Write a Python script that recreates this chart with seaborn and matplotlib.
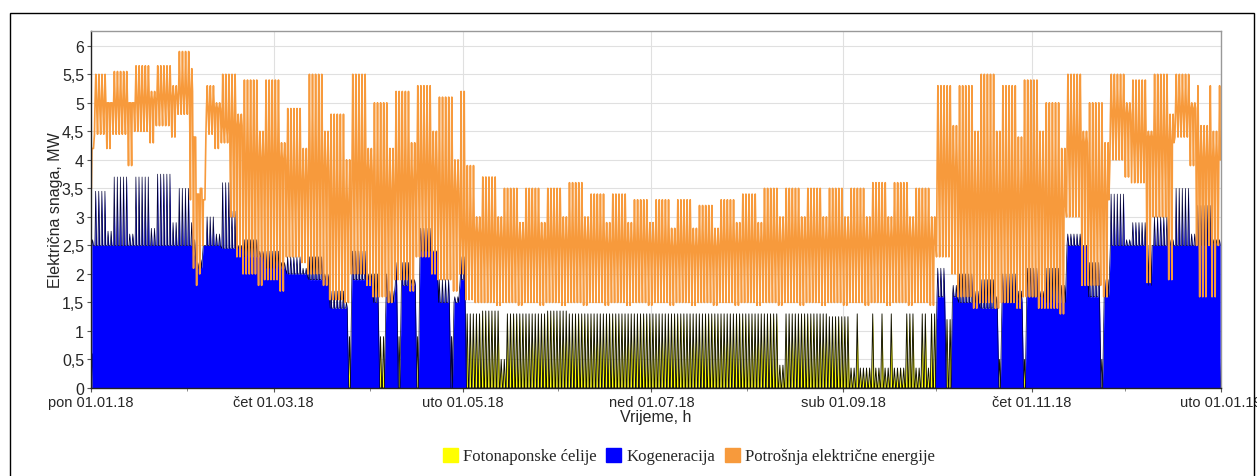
import numpy as np
import pandas as pd
import matplotlib
matplotlib.use("Agg")
import matplotlib.pyplot as plt
import seaborn as sns
from matplotlib.patches import Patch, Rectangle
from matplotlib import font_manager

# ---------------- data (MW) ----------------
# weekly values, week 0 starts Mon 01.01.2018 (53 weeks)
cons_peak = [5.5, 5.55, 5.65, 5.65, 5.9, 5.3, 5.5, 5.4, 5.4, 4.9, 5.5, 4.8, 5.5, 5.0, 5.2, 5.3, 5.1,
             3.9, 3.7, 3.5, 3.5, 3.5, 3.6, 3.4, 3.4, 3.3, 3.3, 3.3, 3.2, 3.3, 3.4, 3.5, 3.5, 3.5, 3.5,
             3.5, 3.6, 3.6, 3.5,
             5.3, 5.3, 5.5, 5.3, 5.4, 5.0, 5.5, 5.0, 5.5, 5.4, 5.5, 5.5, 5.3, 5.3]
cons_we_peak = [5.0, 5.0, 5.2, 5.3, 4.0, 5.0, 4.8, 4.5, 4.3, 4.2, 4.5, 4.0, 4.2, 4.2, 4.3, 4.5, 4.0,
                3.0, 3.0, 2.9, 2.9, 3.0, 3.0, 2.9, 2.9, 2.9, 2.8, 2.8, 2.8, 2.9, 2.9, 3.0, 3.0, 3.0, 3.0,
                3.0, 3.0, 3.0, 3.0,
                4.6, 4.5, 4.5, 4.4, 4.5, 4.2, 4.5, 4.3, 5.0, 4.5, 4.8, 5.0, 4.5, 4.5]
cons_mid = [5.0, 5.0, 5.05, 5.1, 5.2, 4.9, 4.6, 4.0, 4.0, 3.6, 3.8, 3.2, 3.8, 3.4, 3.6, 3.8, 3.4,
            2.7, 2.6, 2.55, 2.55, 2.55, 2.55, 2.5, 2.5, 2.5, 2.45, 2.45, 2.45, 2.5, 2.5, 2.5, 2.55,
            2.55, 2.55, 2.55, 2.6, 2.6, 2.55,
            3.8, 3.3, 3.3, 3.3, 3.4, 3.2, 4.3, 3.3, 4.8, 4.4, 4.3, 4.9, 4.0, 4.0]
cons_low = [4.45, 4.45, 4.5, 4.6, 4.8, 4.45, 3.0, 2.0, 1.9, 2.3, 2.0, 1.55, 2.0, 1.6, 1.9, 2.3, 1.9,
            1.55, 1.5, 1.5, 1.5, 1.5, 1.5, 1.5, 1.5, 1.5, 1.5, 1.5, 1.5, 1.5, 1.5, 1.5, 1.5, 1.5, 1.5,
            1.5, 1.5, 1.5, 1.5,
            2.3, 1.6, 1.5, 1.5, 1.6, 1.4, 3.0, 1.8, 4.0, 3.6, 3.0, 4.4, 2.5, 2.5]
cons_we_low = [4.2, 3.9, 4.3, 4.4, 4.0, 4.2, 2.3, 1.8, 1.7, 2.2, 1.8, 1.5, 1.8, 1.5, 1.7, 2.0, 1.7,
               1.5, 1.45, 1.45, 1.45, 1.45, 1.45, 1.45, 1.45, 1.45, 1.45, 1.45, 1.45, 1.45, 1.45, 1.45,
               1.45, 1.45, 1.45, 1.45, 1.45, 1.45, 1.45,
               2.0, 1.4, 1.4, 1.4, 1.4, 1.3, 1.8, 1.6, 3.7, 1.85, 1.9, 3.9, 1.6, 1.6]
cogen_peak = [3.45, 3.7, 3.7, 3.75, 3.5, 3.0, 3.1, 2.6, 2.4, 2.3, 2.3, 1.7, 2.4, 2.0, 2.2, 2.8, 1.9,
              0, 0, 0, 0, 0, 0, 0, 0, 0, 0, 0, 0, 0, 0, 0, 0, 0, 0, 0, 0, 0, 0,
              2.1, 2.0, 1.9, 2.0, 2.1, 2.1, 2.7, 2.2, 3.4, 2.9, 3.0, 3.5, 3.2, 2.6]
cogen_we_peak = [2.75, 2.7, 2.8, 2.9, 2.5, 2.7, 2.5, 2.4, 2.2, 2.1, 2.0, 1.5, 2.0, 1.7, 1.9, 2.4, 1.6,
                 0, 0, 0, 0, 0, 0, 0, 0, 0, 0, 0, 0, 0, 0, 0, 0, 0, 0, 0, 0, 0, 0,
                 1.8, 1.7, 1.6, 1.7, 1.7, 1.8, 2.5, 1.9, 2.6, 1.8, 2.6, 2.7, 2.6, 2.6]
cogen_base = [2.5, 2.5, 2.5, 2.5, 2.5, 2.5, 2.45, 2.3, 2.1, 2.0, 1.9, 1.4, 1.9, 1.5, 1.8, 2.4, 1.5,
              0, 0, 0, 0, 0, 0, 0, 0, 0, 0, 0, 0, 0, 0, 0, 0, 0, 0, 0, 0, 0, 0,
              1.6, 1.5, 1.4, 1.5, 1.6, 1.5, 2.5, 1.6, 2.5, 2.5, 2.5, 2.5, 2.5, 2.5]
pv_peak = [0.6, 0.6, 0.6, 0.6, 0.6, 0.6, 0.6, 0.6, 0.6, 0.9, 0.9, 0.9, 0.9, 0.9, 0.9, 0.9, 0.9,
           1.3, 1.35, 1.3, 1.3, 1.35, 1.3, 1.3, 1.3, 1.3, 1.3, 1.3, 1.3, 1.3, 1.3, 1.3, 1.3, 1.3, 1.25,
           0.35, 0.35, 0.35, 0.35,
           1.2, 0.9, 0.5, 0.5, 0.5, 0.5, 0.5, 0.5, 0.5, 0.5, 0.5, 0.5, 0.5, 0.5]

# single-day exceptions (holidays, outages); NaN = keep the weekly value
ovr_day = [0, 32, 33, 34, 35, 36, 42, 43, 44, 83, 93, 94, 99, 105, 116, 119, 120,
           276, 277, 293, 301, 326, 358, 359, 360]
ovr_cons_peak = [4.2, 5.6, 4.4, 3.4, 3.5, 3.3, np.nan, np.nan, np.nan, np.nan, np.nan, np.nan, np.nan,
                 np.nan, np.nan, 5.2, 5.2, np.nan, np.nan, np.nan, np.nan, np.nan, 4.6, 4.6, 4.6]
ovr_cons_low = [3.5, 3.3, 2.1, 1.8, 2.0, 2.5, 4.3, 4.3, 4.3, np.nan, np.nan, np.nan, np.nan,
                np.nan, np.nan, 2.0, 2.0, np.nan, np.nan, np.nan, np.nan, np.nan, 1.6, 1.6, 1.6]
ovr_cogen_peak = [2.6, 2.9, 2.6, 2.2, 2.25, 2.5, 3.6, 3.6, 3.6, 0, 0, 0, 0, 0, 0.9, 2.3, 2.3,
                  0, 0, 0, 0, 0, np.nan, np.nan, np.nan]
ovr_cogen_base = [2.5, 2.5, 2.3, 2.1, 2.1, 2.5, np.nan, np.nan, np.nan, 0, 0, 0, 0, 0, 0, 1.9, 1.9,
                  0, 0, 0, 0, 0, np.nan, np.nan, np.nan]
# PV day exceptions (cloudy / sunny days)
pv_day = [132, 133, 222, 223, 247, 252, 255, 258, 263, 264, 265, 268, 269, 271, 272]
pv_day_val = [0.5, 0.5, 0.4, 0.4, 1.3, 1.3, 1.3, 1.3, 1.3, 1.3, 1.3, 1.3, 1.3, 1.3, 1.3]

tick_days = [0, 59, 120, 181, 243, 304, 365]
tick_labels = ["pon 01.01.18", "čet 01.03.18", "uto 01.05.18", "ned 01.07.18",
               "sub 01.09.18", "čet 01.11.18", "uto 01.01.19"]
month_days = [31, 90, 151, 212, 273, 334]
series_names = ["Fotonaponske ćelije", "Kogeneracija", "Potrošnja električne energije"]
series_colors = ["#FFFF00", "#0000FF", "#F79A3C"]

# ---------------- daily expansion ----------------
dates = pd.date_range("2018-01-01", periods=365, freq="D")
days = np.arange(365)
week = days // 7
weekend = np.asarray(dates.dayofweek >= 5)

def daily(wd, we):
    return np.where(weekend, np.asarray(we, float)[week], np.asarray(wd, float)[week])

c_hi = daily(cons_peak, cons_we_peak)
c_lo = daily(cons_low, cons_we_low)
c_mid = daily(cons_mid, cons_mid)
g_hi = daily(cogen_peak, cogen_we_peak)
g_lo = daily(cogen_base, cogen_base)
pv = daily(pv_peak, pv_peak)

for i, d in enumerate(ovr_day):
    for arr, src in ((c_hi, ovr_cons_peak), (c_lo, ovr_cons_low),
                     (g_hi, ovr_cogen_peak), (g_lo, ovr_cogen_base)):
        if not np.isnan(src[i]):
            arr[d] = src[i]
for d, v in zip(pv_day, pv_day_val):
    pv[d] = v
c_mid = np.clip(c_mid, c_lo, c_hi)

# intraday shape: night low -> daytime level -> peak -> daytime level
xc = np.column_stack([days + 0.12, days + 0.3, days + 0.55, days + 0.8]).ravel()
yc = np.column_stack([c_lo, c_mid, c_hi, c_mid]).ravel()
xg = np.column_stack([days + 0.25, days + 0.5, days + 0.75]).ravel()
yg = np.column_stack([g_lo, g_hi, g_lo]).ravel()
xp = np.column_stack([days + 0.1, days + 0.5, days + 0.9]).ravel()
yp = np.column_stack([np.zeros(365), pv, np.zeros(365)]).ravel()
df_c = pd.DataFrame({"t": xc, "P": yc})

# ---------------- plot ----------------
sns.set_theme(style="whitegrid")
names = {f.name for f in font_manager.fontManager.ttflist}
sans = "Liberation Sans" if "Liberation Sans" in names else "DejaVu Sans"
serif = "Liberation Serif" if "Liberation Serif" in names else "DejaVu Serif"
plt.rcParams["font.family"] = [sans, "DejaVu Sans"]

fig = plt.figure(figsize=(12.57, 4.77), dpi=100)
ax = fig.add_axes([91 / 1257, 1 - 389 / 477, (1221 - 91) / 1257, (389 - 32) / 477])
ax.set_facecolor("white")

ax.fill_between(xp, 0, yp, color=series_colors[0], lw=0, zorder=2)
ax.plot(xp, yp, color="#111100", lw=0.65, zorder=2.1)
ax.fill_between(xg, 0, yg, color=series_colors[1], lw=0, zorder=3)
ax.plot(xg, yg, color="#000033", lw=0.5, zorder=3.1)
sns.lineplot(data=df_c, x="t", y="P", estimator=None, sort=False, color=series_colors[2],
             lw=1.2, ax=ax, zorder=4)

ax.set_xlim(0, 365)
ax.set_ylim(0, 6.26)
ax.set_xticks(tick_days)
ax.set_xticklabels(tick_labels, fontsize=10.5)
ax.set_xticks(month_days, minor=True)
yt = np.arange(0, 6.01, 0.5)
ax.set_yticks(yt)
ax.set_yticklabels([("%g" % v).replace(".", ",") for v in yt], fontsize=11.5)
ax.grid(True, which="major", color="#e0e0e0", lw=0.8)
ax.grid(False, which="minor")
ax.tick_params(axis="both", which="major", length=3, width=0.8, color="#555555", pad=2,
               bottom=True, left=True)
ax.tick_params(axis="x", which="minor", length=2.5, width=0.6, color="#777777", bottom=True)
for s in ["left", "bottom"]:
    ax.spines[s].set_color("#222222")
    ax.spines[s].set_linewidth(1.0)
for s in ["top", "right"]:
    ax.spines[s].set_color("#999999")
    ax.spines[s].set_linewidth(1.0)
for s in ax.spines.values():
    s.set_zorder(6)

ax.set_xlabel("Vrijeme, h", fontsize=11.5, labelpad=0)
ax.set_ylabel("Električna snaga, MW", fontsize=11.5, labelpad=-1)

handles = [Patch(facecolor=c, edgecolor=c) for c in series_colors]
fig.legend(handles, series_names, loc="center", bbox_to_anchor=(0.548, 1 - 457 / 477), ncol=3,
           frameon=False, handlelength=0.9, handleheight=0.9, handletextpad=0.3,
           columnspacing=0.6, prop={"family": serif, "size": 12})

fig.add_artist(Rectangle((10 / 1257, -0.02), (1254 - 10) / 1257, 1 - 14 / 477 + 0.02,
                         transform=fig.transFigure, fill=False, ec="black", lw=1.0))

fig.savefig("out.png", dpi=100)
